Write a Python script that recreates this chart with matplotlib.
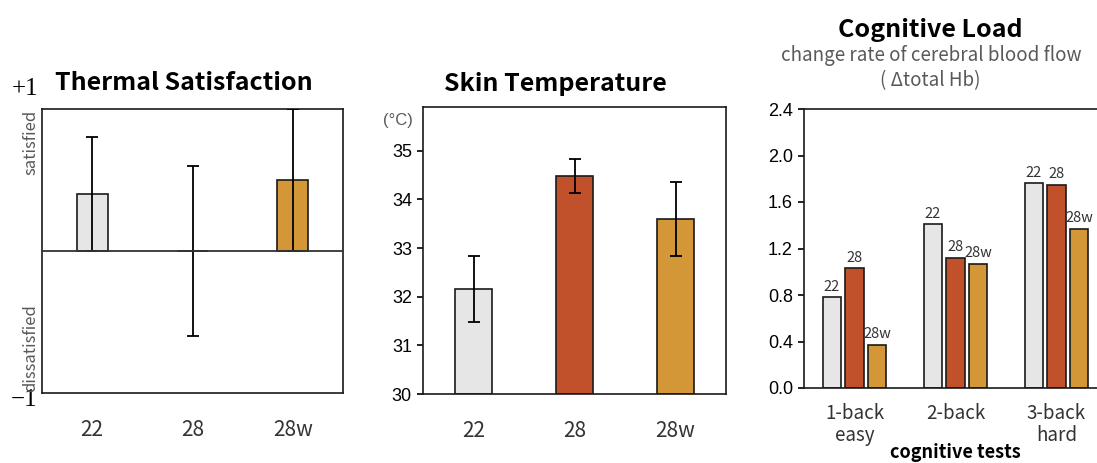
import matplotlib
matplotlib.use("Agg")
import matplotlib.pyplot as plt
import numpy as np

# data
conds = ["22", "28", "28w"]
colors = ["#E6E6E6", "#C0512B", "#D39738"]

thermal_mean = [0.40, 0.0, 0.50]
thermal_err = [0.40, 0.60, 0.50]

skin_mean = [32.15, 34.48, 33.60]
skin_err = [0.68, 0.35, 0.76]

tests = ["1-back\neasy", "2-back", "3-back\nhard"]
load_22 = [0.78, 1.41, 1.76]
load_28 = [1.03, 1.12, 1.75]
load_28w = [0.37, 1.07, 1.37]

W, H = 1097, 463
fig = plt.figure(figsize=(W / 100, H / 100), dpi=100)

jp = ["Noto Sans CJK JP", "DejaVu Sans"]
num = "Liberation Sans"
bold_title = dict(family=jp, fontweight="bold", fontsize=18, color="black")
edge = "#1a1a1a"
grey_txt = "#595959"

def ax_at(x0, y0, x1, y1):
    return fig.add_axes([x0 / W, 1 - y1 / H, (x1 - x0) / W, (y1 - y0) / H])

# ---------------- Thermal Satisfaction
ax1 = ax_at(42, 109, 343, 393)
x = np.arange(len(conds))
ax1.bar(x, thermal_mean, width=0.31, color=colors, edgecolor=edge, linewidth=1.2, zorder=2)
ax1.errorbar(x, thermal_mean, yerr=thermal_err, fmt="none", ecolor="black",
             elinewidth=1.3, capsize=4, capthick=1.3, zorder=3)
ax1.axhline(0, color="#333333", linewidth=1.3, zorder=4)
ax1.set_xlim(-0.5, 2.5)
ax1.set_ylim(-1, 1)
ax1.set_yticks([])
ax1.set_xticks(x)
ax1.set_xticklabels(conds, family=jp, fontsize=15, color="#333333")
ax1.tick_params(axis="x", length=0, pad=19)
for s in ax1.spines.values():
    s.set_linewidth(1.2)
    s.set_color(edge)
fig.text(184 / W, 1 - 90 / H, "Thermal Satisfaction", ha="center", va="baseline", **bold_title)
fig.text(25 / W, 1 - 89 / H, "+1", ha="center", va="center", family="Liberation Serif", fontsize=18)
fig.text(24 / W, 1 - 400 / H, "\u22121", ha="center", va="center", family="Liberation Serif", fontsize=18)
fig.text(31 / W, 1 - 142 / H, "satisfied", rotation=90, ha="center", va="center",
         family=jp, fontsize=12, color=grey_txt)
fig.text(31 / W, 1 - 348 / H, "dissatisfied", rotation=90, ha="center", va="center",
         family=jp, fontsize=12, color=grey_txt)

# ---------------- Skin Temperature
ax2 = ax_at(423, 107, 726, 394)
ax2.bar(x, [m - 30 for m in skin_mean], bottom=30, width=0.36, color=colors,
        edgecolor=edge, linewidth=1.2, zorder=2)
ax2.errorbar(x, skin_mean, yerr=skin_err, fmt="none", ecolor="black",
             elinewidth=1.3, capsize=4, capthick=1.3, zorder=3)
ax2.set_xlim(-0.5, 2.5)
ax2.set_ylim(30, 35.9)
ax2.set_yticks([30, 31, 32, 33, 34, 35])
ax2.set_yticklabels(["30", "31", "32", "33", "34", "35"], family=num, fontsize=13)
ax2.tick_params(axis="y", length=4, width=1.2, pad=4)
ax2.set_xticks(x)
ax2.set_xticklabels(conds, family=jp, fontsize=15, color="#333333")
ax2.tick_params(axis="x", length=0, pad=19)
for s in ax2.spines.values():
    s.set_linewidth(1.2)
    s.set_color(edge)
fig.text(555 / W, 1 - 91 / H, "Skin Temperature", ha="center", va="baseline", **bold_title)
fig.text(398 / W, 1 - 120 / H, "(\u00b0C)", ha="center", va="center", family=num,
         fontsize=12, color=grey_txt)

# ---------------- Cognitive Load
ax3 = ax_at(804, 109, 1107, 388)
gx = np.arange(len(tests))
step, bw = 0.225, 0.18
for k, (vals, lab) in enumerate(zip([load_22, load_28, load_28w], conds)):
    xs = gx + (k - 1) * step
    ax3.bar(xs, vals, width=bw, color=colors[k], edgecolor=edge, linewidth=1.2, zorder=2)
    for xi, v in zip(xs, vals):
        ax3.text(xi, v + 0.03, lab, ha="center", va="bottom", family=jp,
                 fontsize=10.5, color="#333333")
ax3.set_xlim(-0.5, 2.5)
ax3.set_ylim(0, 2.4)
ax3.set_yticks(np.arange(0, 2.41, 0.4))
ax3.set_yticklabels([f"{v:.1f}" for v in np.arange(0, 2.41, 0.4)], family=num, fontsize=13)
ax3.tick_params(axis="y", length=4, width=1.2, pad=4)
ax3.set_xticks(gx)
ax3.set_xticklabels(tests, family=jp, fontsize=13.5, color="#333333", linespacing=1.05)
ax3.tick_params(axis="x", length=0, pad=11)
ax3.spines["right"].set_visible(False)
for s in ax3.spines.values():
    s.set_linewidth(1.2)
    s.set_color(edge)
fig.text(930 / W, 1 - 37 / H, "Cognitive Load", ha="center", va="baseline", **bold_title)
fig.text(931 / W, 1 - 61 / H, "change rate of cerebral blood flow", ha="center",
         va="baseline", family=jp, fontsize=13.5, color=grey_txt)
fig.text(930 / W, 1 - 86 / H, "( \u0394total Hb)", ha="center", va="baseline",
         family=jp, fontsize=13.5, color=grey_txt)
fig.text(955 / W, 1 / H, "cognitive tests", ha="center", va="bottom",
         family=jp, fontweight="bold", fontsize=13)

fig.savefig("out.png", dpi=100)
